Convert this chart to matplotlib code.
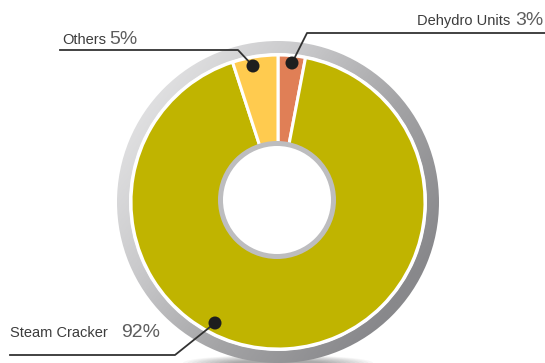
import numpy as np
import matplotlib
matplotlib.use("Agg")
import matplotlib.pyplot as plt
from matplotlib.patches import Wedge, Circle, Ellipse
from matplotlib.colors import LinearSegmentedColormap

categories = ["Dehydro Units", "Steam Cracker", "Others"]
values = [3, 92, 5]
pct_labels = ["3%", "92%", "5%"]
colors = ["#E07F56", "#C0B400", "#FFCB4F"]

plt.rcParams['font.family'] = ['Liberation Sans', 'DejaVu Sans']

W, H = 545, 363
fig = plt.figure(figsize=(W/100, H/100), dpi=100)
ax = fig.add_axes([0, 0, 1, 1])

cx, cy = 278, 202
R_out, R_ring_in = 161, 149
R_pie = 147
R_hole_out, R_hole_in = 59, 54

# pie wedges (y axis is inverted, so startangle -90 is the visual top and
# counterclock=True is visually clockwise)
wedges, _ = ax.pie(values, colors=colors, startangle=-90, counterclock=True,
                   radius=R_pie, center=(cx, cy), frame=False,
                   wedgeprops=dict(edgecolor='white', linewidth=2.2))
for w in wedges:
    w.set_zorder(2)

ax.set_xlim(0, W)
ax.set_ylim(H, 0)
ax.set_aspect('equal')
ax.axis('off')

# shadow under pie
for i in range(12):
    e = Ellipse((cx, 363), 190 - i*9, 16 - i*1.0, color='#000000', alpha=0.03, lw=0, zorder=0)
    ax.add_patch(e)

# outer gradient ring
ring = Wedge((cx, cy), R_out, 0, 360, width=R_out - R_ring_in, facecolor='none', edgecolor='none')
ax.add_patch(ring)
yy, xx = np.mgrid[0:1:300j, 0:1:300j]
grad = np.clip(xx * 0.75 + yy * 0.55 - 0.1, 0, 1)
cmap = LinearSegmentedColormap.from_list('g', ['#E6E6E7', '#CACACC', '#A3A3A5', '#88888B'])
im = ax.imshow(grad, cmap=cmap, extent=(cx - R_out, cx + R_out, cy + R_out, cy - R_out),
               zorder=1, aspect='auto', vmin=0, vmax=1)
im.set_clip_path(ring)
ax.set_xlim(0, W)
ax.set_ylim(H, 0)

# inner hole
ax.add_patch(Circle((cx - 1, cy - 2), R_hole_out, facecolor='#BDBDBF', edgecolor='none', zorder=3))
ax.add_patch(Circle((cx - 1, cy - 2), R_hole_in, facecolor='white', edgecolor='none', zorder=4))

# callouts
dots = [(292, 63), (215, 323), (253, 66)]
elbows = [(307, 33), (175, 355), (238, 50)]
ends = [(545, 33), (10, 355), (60, 50)]
for d, e, en in zip(dots, elbows, ends):
    ax.plot([d[0], e[0], en[0]], [d[1], e[1], en[1]], color='#333333', lw=1.3, zorder=5)
    ax.add_patch(Circle(d, 6.5, facecolor='#1E1E1E', edgecolor='none', zorder=6))

txtc = '#3C3C3C'
pc = '#5E5E5E'
ax.text(510, 25, categories[0], ha='right', va='baseline', fontsize=10.5, color=txtc, zorder=7)
ax.text(543, 25, pct_labels[0], ha='right', va='baseline', fontsize=14, color=pc, zorder=7)
ax.text(62, 44, categories[2], ha='left', va='baseline', fontsize=10.5, color=txtc, zorder=7)
ax.text(109, 44, pct_labels[2], ha='left', va='baseline', fontsize=14, color=pc, zorder=7)
ax.text(10, 337, categories[1], ha='left', va='baseline', fontsize=10.5, color=txtc, zorder=7)
ax.text(121, 337, pct_labels[1], ha='left', va='baseline', fontsize=14, color=pc, zorder=7)

fig.savefig('out.png', dpi=100)
